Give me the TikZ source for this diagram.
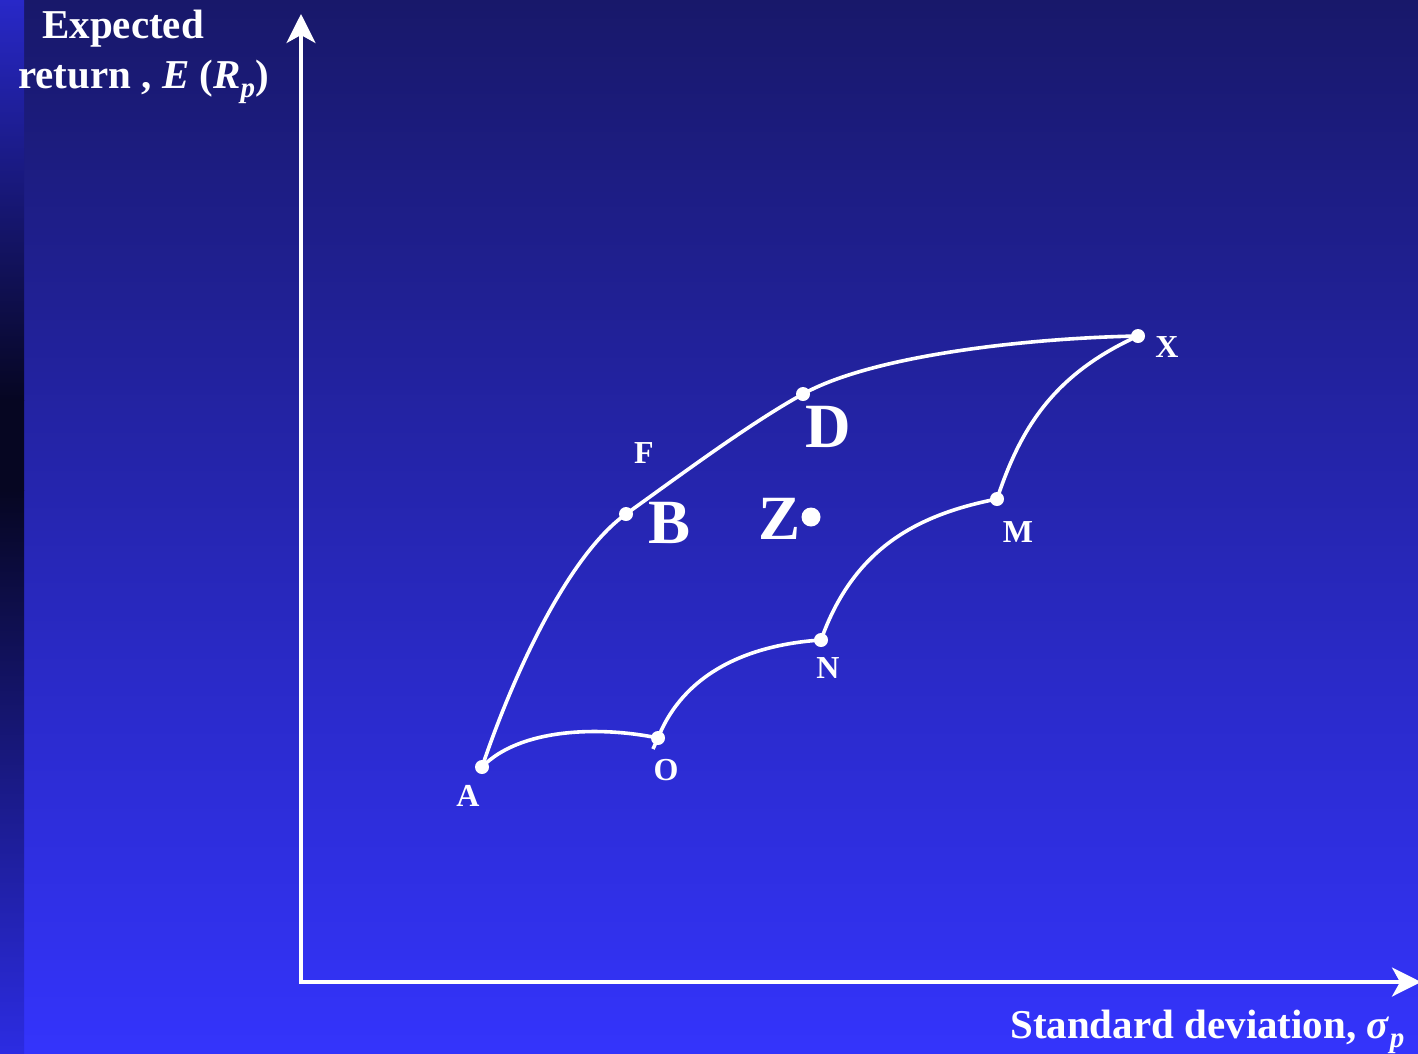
\documentclass[tikz,border=0pt]{standalone}
\usepackage{fontspec}
\setmainfont{Liberation Serif}
\usetikzlibrary{arrows.meta}
\definecolor{bgtop}{RGB}{24,24,106}
\definecolor{bgmid}{RGB}{40,40,198}
\definecolor{bgbot}{RGB}{52,52,252}
\definecolor{striptop}{RGB}{40,40,200}
\definecolor{stripmid}{RGB}{24,24,120}
\definecolor{stripdark}{RGB}{6,6,34}
\definecolor{stripbot}{RGB}{44,44,226}
\begin{document}
\begin{tikzpicture}[x=1pt,y=-1pt,
  curve/.style={white, line width=3.6pt},
  axis/.style={white, line width=3.6pt},
  dot/.style={circle, fill=white, inner sep=0pt, minimum size=14pt},
  bigdot/.style={circle, fill=white, inner sep=0pt, minimum size=19pt},
  small/.style={text=white, font=\fontsize{32}{36}\selectfont\bfseries, anchor=base, inner sep=0pt},
  big/.style={text=white, font=\fontsize{63}{70}\selectfont\bfseries, anchor=base, inner sep=0pt},
  axlabel/.style={text=white, font=\fontsize{41}{50}\selectfont\bfseries, anchor=base west, inner sep=0pt}
]
\useasboundingbox (0,0) rectangle (1418,1053);
% background
\shade[top color=bgtop, middle color=bgmid, bottom color=bgbot] (0,0) rectangle (1418,1053);
\shade[top color=striptop, middle color=stripmid, bottom color=stripdark] (0,0) rectangle (24,400);
\shade[top color=stripdark, middle color=black, bottom color=stripdark] (0,400) rectangle (24,490);
\shade[top color=stripdark, middle color=stripmid, bottom color=stripbot] (0,490) rectangle (24,1053);

% axes
\coordinate (ytop) at (301,14);
\coordinate (orig) at (301,982);
\coordinate (xend) at (1421,982);
\draw[axis, {Stealth[length=29pt,width=29pt,inset=8pt]}-{Stealth[length=29pt,width=29pt,inset=8pt]}] (ytop) -- (orig) -- (xend);

% points
\node[dot] (A) at (482,767) {};
\node[dot] (O) at (658,738) {};
\node[dot] (N) at (821,640) {};
\node[dot] (M) at (997,499) {};
\node[dot] (X) at (1138,336) {};
\node[dot] (D) at (803,394) {};
\node[dot] (B) at (626,514) {};
\node[bigdot] (Zdot) at (811,517) {};
\coordinate (Otick) at (653,749);

% efficient frontier
\draw[curve] (A.center) .. controls (515,670) and (569,555) .. (B.center)
  .. controls (675,479) and (750,423) .. (D.center)
  .. controls (873,355) and (1030,338) .. (X.center);
% lower boundary
\draw[curve] (A.center) .. controls (520,728) and (600,726) .. (O.center);
\draw[curve] (Otick) -- (O.center) .. controls (683,675) and (745,645) .. (N.center)
  .. controls (853,550) and (915,515) .. (M.center)
  .. controls (1020,430) and (1052,375) .. (X.center);

% labels
\node[small] (lA) at (468,806) {A};
\node[small] (lO) at (666,780) {O};
\node[small] (lN) at (828,678) {N};
\node[small] (lM) at (1018,542) {M};
\node[small] (lX) at (1167,357) {X};
\node[small] (lF) at (644,463) {F};
\node[big] (lB) at (670,543) {B};
\node[big] (lD) at (828,447) {D};
\node[big] (lZ) at (779,539) {Z};

% axis labels
\node[axlabel] (ylab1) at (42,38) {Expected};
\node[axlabel] (ylab2) at (18,88) {return , \textit{E} (\textit{R}\raisebox{-9pt}{\fontsize{29}{30}\selectfont\itshape p})};
\node[axlabel] (xlab) at (1010,1038) {Standard deviation, \textit{σ}\raisebox{-9pt}{\fontsize{29}{30}\selectfont\itshape p}};
\end{tikzpicture}
\end{document}
